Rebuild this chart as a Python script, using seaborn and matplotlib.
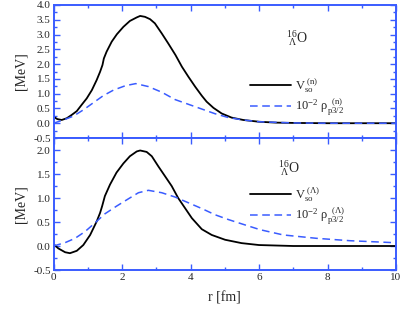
import numpy as np
import pandas as pd
import matplotlib
matplotlib.use("Agg")
import matplotlib.pyplot as plt
import seaborn as sns
from matplotlib.ticker import MultipleLocator, FormatStrFormatter

# ---- data ----
r_top_v = [0.0, 0.11, 0.24, 0.39, 0.53, 0.68, 0.82, 0.97, 1.12, 1.26, 1.36, 1.43, 1.47, 1.55, 1.70,
           1.85, 2.04, 2.23, 2.43, 2.53, 2.67, 2.82, 2.96, 3.16, 3.35, 3.56, 3.75, 3.94, 4.14, 4.33,
           4.47, 4.67, 4.91, 5.20, 5.54, 6.0, 6.5, 7.0, 8.0, 10.0]
v_top = [0.22, 0.14, 0.11, 0.17, 0.28, 0.41, 0.62, 0.84, 1.12, 1.46, 1.74, 1.97, 2.19, 2.42, 2.76,
         3.01, 3.26, 3.46, 3.58, 3.63, 3.60, 3.52, 3.38, 3.04, 2.70, 2.31, 1.91, 1.57, 1.23, 0.93,
         0.73, 0.52, 0.33, 0.19, 0.11, 0.05, 0.02, 0.01, 0.0, 0.0]

r_top_rho = [0.0, 0.29, 0.58, 0.87, 1.16, 1.45, 1.75, 2.10, 2.40, 2.77, 3.16, 3.55, 3.94, 4.33,
             4.72, 5.11, 5.54, 6.0, 6.5, 7.0, 8.0, 10.0]
rho_top = [0.0, 0.11, 0.24, 0.45, 0.69, 0.93, 1.12, 1.27, 1.34, 1.24, 1.05, 0.80, 0.64, 0.48,
           0.32, 0.19, 0.11, 0.05, 0.03, 0.01, 0.0, 0.0]

r_bot_v = [0.0, 0.14, 0.34, 0.48, 0.68, 0.87, 1.07, 1.26, 1.36, 1.42, 1.50, 1.65, 1.84, 2.04, 2.23,
           2.43, 2.53, 2.72, 2.87, 3.06, 3.26, 3.45, 3.64, 3.84, 4.04, 4.33, 4.62, 5.01, 5.49, 6.0,
           7.0, 10.0]
v_bot = [0.04, -0.05, -0.13, -0.15, -0.10, 0.02, 0.23, 0.51, 0.69, 0.83, 1.04, 1.28, 1.53, 1.72, 1.87,
         1.97, 1.99, 1.96, 1.87, 1.66, 1.45, 1.25, 1.00, 0.79, 0.58, 0.35, 0.23, 0.13, 0.06, 0.02,
         0.0, 0.0]

r_bot_rho = [0.0, 0.34, 0.63, 0.92, 1.21, 1.50, 1.84, 2.18, 2.48, 2.77, 3.16, 3.55, 3.94, 4.33,
             4.72, 5.11, 5.50, 6.03, 6.71, 7.68, 8.66, 9.92, 10.0]
rho_bot = [0.0, 0.07, 0.16, 0.30, 0.48, 0.67, 0.83, 0.98, 1.11, 1.16, 1.11, 1.02, 0.90, 0.78,
           0.65, 0.55, 0.46, 0.34, 0.23, 0.16, 0.11, 0.07, 0.07]

labels_top = [r'V$_{\mathregular{so}}^{\mathregular{\ (n)}}$',
              r'10$^{\mathregular{-2}}$ $\mathregular{\rho}_{\mathregular{p3/2}}^{\mathregular{\ \ (n)}}$']
labels_bot = [r'V$_{\mathregular{so}}^{\mathregular{\ (\Lambda)}}$',
              r'10$^{\mathregular{-2}}$ $\mathregular{\rho}_{\mathregular{p3/2}}^{\mathregular{\ \ (\Lambda)}}$']
nucleus = r'$^{\mathregular{16}}_{\ \mathregular{\Lambda}}$O'

# ---- style ----
sns.set_style('ticks')
plt.rcParams['font.family'] = ['Liberation Serif', 'DejaVu Serif']
plt.rcParams['mathtext.fontset'] = 'stix'
plt.rcParams['font.size'] = 8

BLUE = '#3a5cff'
fig = plt.figure(figsize=(4.09, 3.10), dpi=100)
L, R = 53.5 / 409, 396 / 409
ax1 = fig.add_axes([L, 1 - 138 / 310, R - L, 133 / 310])
ax2 = fig.add_axes([L, 1 - 270 / 310, R - L, 132 / 310])

df_t1 = pd.DataFrame({'r': r_top_v, 'y': v_top})
df_t2 = pd.DataFrame({'r': r_top_rho, 'y': rho_top})
df_b1 = pd.DataFrame({'r': r_bot_v, 'y': v_bot})
df_b2 = pd.DataFrame({'r': r_bot_rho, 'y': rho_bot})

sns.lineplot(data=df_t1, x='r', y='y', ax=ax1, color='black', lw=1.3, label=labels_top[0])
sns.lineplot(data=df_t2, x='r', y='y', ax=ax1, color=BLUE, lw=1.1, label=labels_top[1])
ax1.lines[1].set_dashes([5, 3])
sns.lineplot(data=df_b1, x='r', y='y', ax=ax2, color='black', lw=1.3, label=labels_bot[0])
sns.lineplot(data=df_b2, x='r', y='y', ax=ax2, color=BLUE, lw=1.1, label=labels_bot[1])
ax2.lines[1].set_dashes([5, 3])

for ax, ylim in [(ax1, (-0.5, 4.0)), (ax2, (-0.5, 2.25))]:
    ax.set_xlim(0, 10)
    ax.set_ylim(*ylim)
    ax.xaxis.set_major_locator(MultipleLocator(2))
    ax.xaxis.set_minor_locator(MultipleLocator(1))
    ax.yaxis.set_major_locator(MultipleLocator(0.5))
    ax.yaxis.set_minor_locator(MultipleLocator(0.25))
    ax.tick_params(which='both', direction='in', top=True, right=True, color=BLUE, labelsize=8, pad=2)
    ax.tick_params(which='major', length=4, width=1)
    ax.tick_params(which='minor', length=2, width=1)
    for s in ax.spines.values():
        s.set_color(BLUE)
        s.set_linewidth(1.4)
    ax.set_ylabel('[MeV]', fontsize=10, labelpad=4)
    ax.yaxis.set_major_formatter(FormatStrFormatter('%.1f'))

ax1.tick_params(labelbottom=False)
ax1.set_xlabel('')
ax2.set_xlabel('r [fm]', fontsize=10, labelpad=7)

ax1.legend(loc='upper left', bbox_to_anchor=(0.555, 0.51), frameon=False, fontsize=9,
           handlelength=3.3, handletextpad=0.3, labelspacing=0.15, borderpad=0)
ax2.legend(loc='upper left', bbox_to_anchor=(0.555, 0.69), frameon=False, fontsize=9,
           handlelength=3.3, handletextpad=0.3, labelspacing=0.15, borderpad=0)

ax1.text(0.68, 0.72, nucleus, transform=ax1.transAxes, fontsize=10)
ax2.text(0.655, 0.74, nucleus, transform=ax2.transAxes, fontsize=10)

fig.savefig('out.png', dpi=100)
